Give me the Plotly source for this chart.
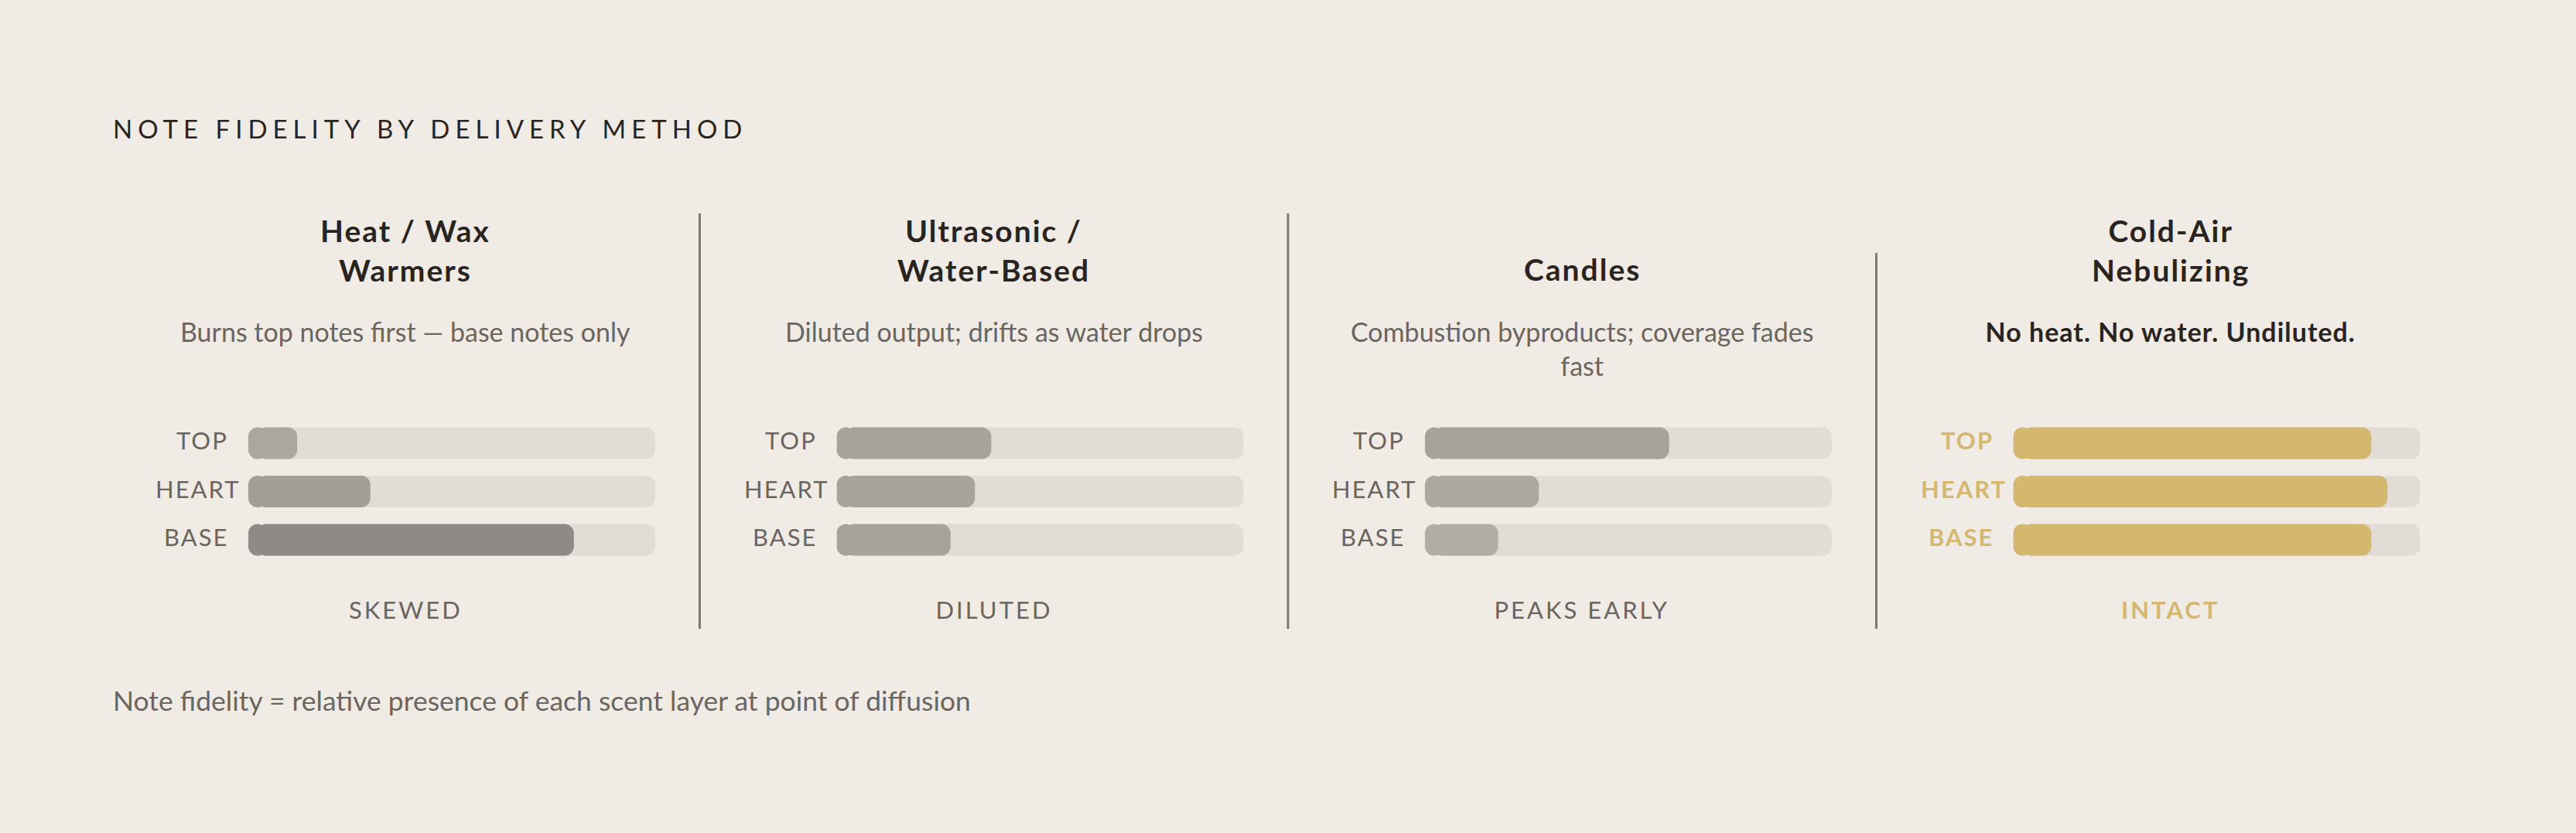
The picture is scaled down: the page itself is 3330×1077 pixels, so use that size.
import plotly.graph_objects as go

# ---------------- data ----------------
method_titles = ["Heat / Wax<br>Warmers", "Ultrasonic /<br>Water-Based", "Candles", "Cold-Air<br>Nebulizing"]
descriptions = [
    "Burns top notes first — base notes only",
    "Diluted output; drifts as water drops",
    "Combustion byproducts; coverage fades<br>fast",
    "No heat. No water. Undiluted.",
]
verdicts = ["SKEWED", "DILUTED", "PEAKS EARLY", "INTACT"]
layers = ["TOP", "HEART", "BASE"]
top_values = [12, 38, 60, 88]
heart_values = [30, 34, 28, 92]
base_values = [80, 28, 18, 88]
highlight_index = 3
chart_title = "NOTE FIDELITY BY DELIVERY METHOD"
footnote = "Note fidelity = relative presence of each scent layer at point of diffusion"

# ---------------- styles ----------------
W, H = 3330, 1077
BG = "#f0ebe5"
TRACK = "#e1dcd6"
DARK = "#2a2420"
MUTED = "#6b6560"
GOLD = "#d4b870"
DIVIDER = "#7f7a75"
FONT = "Lato"
fill_colors = [
    ["#aba6a0", "#a39e98", "#8f8a85"],
    ["#a7a29c", "#a7a29c", "#a7a29c"],
    ["#a7a29c", "#aca7a1", "#b2ada7"],
    [GOLD, GOLD, GOLD],
]

PANEL_X0 = 144
PANEL_W = 760.5
TRACK_OFF = 177
TRACK_W = 526
ROW_TOP_PX, ROW_BOTTOM_PX = 541.75, 729.25
R_PX = 12
r_u = R_PX / TRACK_W * 100.0
body_start = 0.9 * r_u


def px_x(px):
    return px / W


def px_y(py):
    return 1 - py / H


fig = go.Figure()
values_by_panel = list(zip(top_values, heart_values, base_values))

for i in range(4):
    xa = "x" if i == 0 else f"x{i + 1}"
    vals = list(values_by_panel[i])
    common = dict(orientation="h", y=layers, xaxis=xa, yaxis="y", width=0.656,
                  hoverinfo="skip", showlegend=False)
    # track: left cap + main body (both ends rounded)
    fig.add_trace(go.Bar(x=[-2 * r_u] * 3, base=[2 * r_u] * 3,
                         marker=dict(color=TRACK, cornerradius=R_PX, line_width=0), **common))
    fig.add_trace(go.Bar(x=[100 - body_start] * 3, base=[body_start] * 3,
                         marker=dict(color=TRACK, cornerradius=R_PX, line_width=0), **common))
    # fill: left cap + main body
    fig.add_trace(go.Bar(x=[-2 * r_u] * 3, base=[2 * r_u] * 3,
                         marker=dict(color=fill_colors[i], cornerradius=R_PX, line_width=0), **common))
    fig.add_trace(go.Bar(x=[v - body_start for v in vals], base=[body_start] * 3,
                         marker=dict(color=fill_colors[i], cornerradius=R_PX, line_width=0), **common))

layout_axes = {}
for i in range(4):
    key = "xaxis" if i == 0 else f"xaxis{i + 1}"
    left = PANEL_X0 + i * PANEL_W + TRACK_OFF
    layout_axes[key] = dict(domain=[px_x(left), px_x(left + TRACK_W)], range=[0, 100],
                            visible=False, fixedrange=True, anchor="y")
layout_axes["yaxis"] = dict(domain=[px_y(ROW_BOTTOM_PX), px_y(ROW_TOP_PX)], type="category",
                            categoryorder="array", categoryarray=layers, range=[2.5, -0.5],
                            visible=False, fixedrange=True)

annotations = []
annotations.append(dict(text=chart_title, x=px_x(PANEL_X0), y=px_y(166), xref="paper", yref="paper",
                        xanchor="left", yanchor="middle", align="left", showarrow=False,
                        font=dict(family=FONT, size=33, color=DARK)))
annotations.append(dict(text=footnote, x=px_x(PANEL_X0), y=px_y(905), xref="paper", yref="paper",
                        xanchor="left", yanchor="middle", align="left", showarrow=False,
                        font=dict(family=FONT, size=35.5, color=MUTED)))

for i in range(4):
    hl = i == highlight_index
    cx = px_x(PANEL_X0 + i * PANEL_W + PANEL_W / 2)
    nlines = method_titles[i].count("<br>") + 1
    annotations.append(dict(text=f"<b>{method_titles[i]}</b>", x=cx, y=px_y(348 - (nlines - 1) * 24.5),
                            xref="paper", yref="paper", xanchor="center", yanchor="middle",
                            showarrow=False, font=dict(family=FONT, size=39, color=DARK)))
    dl = descriptions[i].count("<br>") + 1
    dtext = f"<b>{descriptions[i]}</b>" if hl else descriptions[i]
    annotations.append(dict(text=dtext, x=cx, y=px_y(428 + (dl - 1) * 22), xref="paper", yref="paper",
                            xanchor="center", yanchor="middle", showarrow=False,
                            font=dict(family=FONT, size=34, color=DARK if hl else MUTED)))
    vtext = f"<b>{verdicts[i]}</b>" if hl else verdicts[i]
    annotations.append(dict(text=vtext, x=cx, y=px_y(788), xref="paper", yref="paper",
                            xanchor="center", yanchor="middle", showarrow=False,
                            font=dict(family=FONT, size=31, color=GOLD if hl else MUTED)))
    xa = "x" if i == 0 else f"x{i + 1}"
    for lay in layers:
        ltext = f"<b>{lay}</b>" if hl else lay
        if lay == "HEART":
            anchor, shift = "left", -122
        else:
            anchor, shift = "right", -24
        annotations.append(dict(text=ltext, x=0, y=lay, xref=f"{xa} domain", yref="y",
                                xanchor=anchor, yanchor="middle", align=anchor, xshift=shift,
                                yshift=4, showarrow=False,
                                font=dict(family=FONT, size=31, color=GOLD if hl else MUTED)))

shapes = []
for i in range(3):
    xline = px_x(PANEL_X0 + (i + 1) * PANEL_W)
    y_top = 327 if i + 1 == highlight_index else 276
    shapes.append(dict(type="line", xref="paper", yref="paper", x0=xline, x1=xline,
                       y0=px_y(y_top), y1=px_y(813), line=dict(color=DIVIDER, width=3)))

fig.update_layout(
    width=W, height=H, margin=dict(l=0, r=0, t=0, b=0),
    paper_bgcolor=BG, plot_bgcolor=BG, barmode="overlay",
    annotations=annotations, shapes=shapes, **layout_axes,
)

post = """
document.body.style.margin = '0';
document.body.style.padding = '0';
document.body.style.background = '#f0ebe5';
document.documentElement.style.background = '#f0ebe5';
var gd = document.getElementById('{plot_id}');
var spacing = {'NOTE FIDELITY BY DELIVERY METHOD': '7px', 'TOP': '2px', 'HEART': '2px', 'BASE': '2px',
               'SKEWED': '3px', 'DILUTED': '3px', 'PEAKS EARLY': '3px', 'INTACT': '3px',
               'Heat / WaxWarmers': '2px', 'Ultrasonic /Water-Based': '2px', 'Candles': '2px',
               'Cold-AirNebulizing': '2px', 'No heat. No water. Undiluted.': '1px'};
gd.querySelectorAll('.annotation-text').forEach(function(t){
  var s = t.textContent;
  if (spacing[s]) { t.style.letterSpacing = spacing[s]; }
});
"""

fig.write_html("out.html", post_script=post, config={"displayModeBar": False})
